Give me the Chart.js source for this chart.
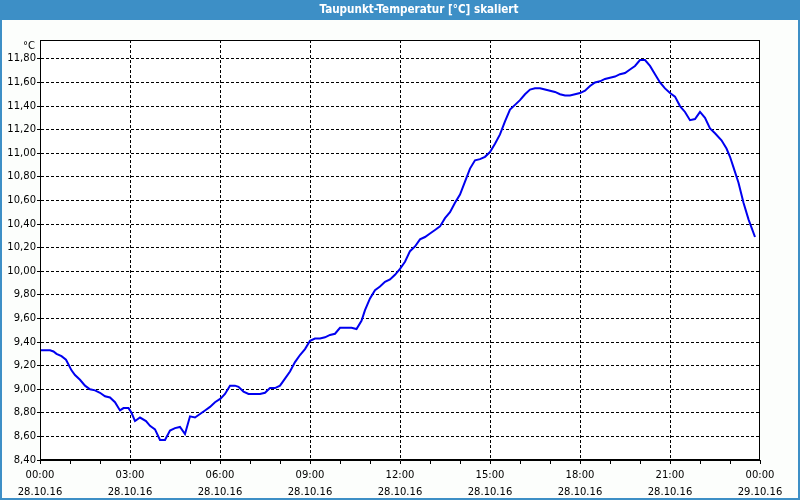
<!DOCTYPE html>
<html>
<head>
<meta charset="utf-8">
<script src="https://cdn.jsdelivr.net/npm/chart.js@4/dist/chart.umd.min.js"></script>
<style>
html,body{margin:0;padding:0;background:#fcfefc;}
#wrap{width:800px;height:500px;position:relative;}
</style>
</head>
<body>
<div id="wrap"><canvas id="c" width="800" height="500"></canvas></div>
<script>
const chartTitle = 'Taupunkt-Temperatur [°C] skaliert';
const unitLabel = '°C';
// time in minutes after 28.10.16 00:00
const minutes = [0,20,27,33,43,52,57,63,70,80,90,100,110,120,130,140,150,160,167,177,183,190,200,212,220,230,240,250,260,270,280,290,300,310,320,330,340,
350,361,370,380,390,397,407,417,427,440,450,460,470,480,490,500,510,520,530,540,550,560,570,580,590,600,613,623,633,643,650,660,670,680,690,700,710,
720,730,740,750,760,770,780,790,800,810,820,830,840,850,860,870,880,890,900,910,920,930,940,950,960,970,980,990,1000,1010,1020,1030,1040,1050,1060,1070,
1080,1090,1100,1110,1120,1130,1140,1150,1160,1170,1180,1190,1200,1210,1220,1230,1240,1250,1260,1270,1280,1290,1300,1310,1320,1330,1340,1350,1363,1373,1380,1387,1397,1407,1417,1430];
const dewpoint = [9.33,9.33,9.32,9.30,9.28,9.25,9.21,9.16,9.12,9.08,9.03,9.00,8.99,8.97,8.94,8.93,8.89,8.82,8.84,8.84,8.80,8.73,8.76,8.73,8.69,8.66,8.57,8.57,8.65,8.67,8.68,8.62,8.77,8.76,8.79,8.82,8.85,
8.89,8.92,8.96,9.03,9.03,9.02,8.98,8.96,8.96,8.96,8.97,9.01,9.01,9.03,9.09,9.15,9.23,9.29,9.34,9.41,9.43,9.43,9.44,9.46,9.47,9.52,9.52,9.52,9.51,9.58,9.67,9.77,9.84,9.87,9.91,9.93,9.97,
10.02,10.08,10.17,10.21,10.27,10.29,10.32,10.35,10.38,10.45,10.50,10.58,10.65,10.76,10.87,10.94,10.95,10.97,11.01,11.08,11.16,11.27,11.37,11.41,11.45,11.50,11.54,11.55,11.55,11.54,11.53,11.52,11.50,11.49,11.49,11.50,
11.51,11.53,11.57,11.60,11.61,11.63,11.64,11.65,11.67,11.68,11.71,11.74,11.79,11.79,11.74,11.67,11.60,11.55,11.51,11.48,11.40,11.35,11.28,11.29,11.35,11.30,11.21,11.17,11.11,11.04,10.97,10.88,10.75,10.58,10.44,10.29];
const yTicks = [8.4,8.6,8.8,9.0,9.2,9.4,9.6,9.8,10.0,10.2,10.4,10.6,10.8,11.0,11.2,11.4,11.6,11.8];
const xTickMinutes = [0,180,360,540,720,900,1080,1260,1440];
const xTimeLabels = ['00:00','03:00','06:00','09:00','12:00','15:00','18:00','21:00','00:00'];
const xDateLabels = ['28.10.16','28.10.16','28.10.16','28.10.16','28.10.16','28.10.16','28.10.16','28.10.16','29.10.16'];

const FONT = 'DejaVu Sans';
const decor = {
  id: 'decor',
  beforeDraw(chart) {
    const ctx = chart.ctx, a = chart.chartArea;
    ctx.save();
    ctx.fillStyle = '#fcfefc';
    ctx.fillRect(0, 0, 800, 500);
    ctx.fillStyle = '#ffffff';
    ctx.fillRect(a.left, a.top, a.right - a.left, a.bottom - a.top);
    ctx.restore();
  },
  afterDraw(chart) {
    const ctx = chart.ctx, a = chart.chartArea;
    ctx.save();
    ctx.strokeStyle = '#000';
    ctx.lineWidth = 1;
    ctx.strokeRect(Math.round(a.left) + 0.5, Math.round(a.top) + 0.5, Math.round(a.right - a.left) - 1, Math.round(a.bottom - a.top) - 1);
    // title bar
    ctx.fillStyle = '#3d8fc6';
    ctx.fillRect(0, 0, 800, 20);
    ctx.fillRect(0, 0, 2, 500);
    ctx.fillRect(798, 0, 2, 500);
    ctx.fillRect(0, 498, 800, 2);
    ctx.fillStyle = '#ffffff';
    ctx.font = 'bold 11.6px "DejaVu Sans Condensed", "DejaVu Sans"';
    ctx.textAlign = 'center';
    ctx.textBaseline = 'middle';
    ctx.fillText(chartTitle, 419, 10);
    ctx.fillStyle = '#000';
    ctx.font = '10px ' + FONT;
    ctx.textAlign = 'right';
    ctx.fillText(unitLabel, 35, 46);
    ctx.restore();
  }
};

new Chart(document.getElementById('c'), {
  type: 'line',
  data: {
    datasets: [{
      data: minutes.map((m, i) => ({x: m, y: dewpoint[i]})),
      borderColor: '#0000f0',
      borderWidth: 2,
      pointRadius: 0,
      tension: 0,
      fill: false
    }]
  },
  options: {
    responsive: false,
    animation: false,
    devicePixelRatio: 1,
    layout: {padding: {top: 40, right: 40, left: 0, bottom: 0}},
    plugins: {legend: {display: false}, tooltip: {enabled: false}, title: {display: false}},
    scales: {
      x: {
        type: 'linear',
        min: 0, max: 1440,
        afterBuildTicks: s => { const t = []; for (let m = 0; m <= 1440; m += 60) t.push({value: m}); s.ticks = t; },
        afterFit: s => { s.height = 40; },
        ticks: {
          autoSkip: false, maxRotation: 0, minRotation: 0, padding: 3,
          color: '#000',
          font: {family: FONT, size: 10, lineHeight: 1.7},
          callback: v => { const i = xTickMinutes.indexOf(v); return i < 0 ? '' : [xTimeLabels[i], xDateLabels[i]]; }
        },
        grid: {
          color: c => (c.tick && xTickMinutes.indexOf(c.tick.value) >= 0 && c.tick.value > 0 && c.tick.value < 1440) ? '#000' : 'rgba(0,0,0,0)',
          tickColor: '#000', tickLength: 4, tickBorderDash: [], lineWidth: 1
        },
        border: {display: true, color: '#000', width: 1, dash: [3, 2]}
      },
      y: {
        min: 8.4, max: 11.96,
        afterBuildTicks: s => { s.ticks = yTicks.map(v => ({value: v})); },
        afterFit: s => { s.width = 40; },
        ticks: {
          padding: 1, color: '#000',
          font: {family: FONT, size: 10},
          callback: v => v.toFixed(2).replace('.', ',')
        },
        grid: {
          color: c => (c.tick && c.tick.value > 8.41) ? '#000' : 'rgba(0,0,0,0)',
          tickColor: '#000', tickLength: 3, tickBorderDash: [], lineWidth: 1
        },
        border: {display: true, color: '#000', width: 1, dash: [3, 2]}
      }
    }
  },
  plugins: [decor]
});
</script>
</body>
</html>
